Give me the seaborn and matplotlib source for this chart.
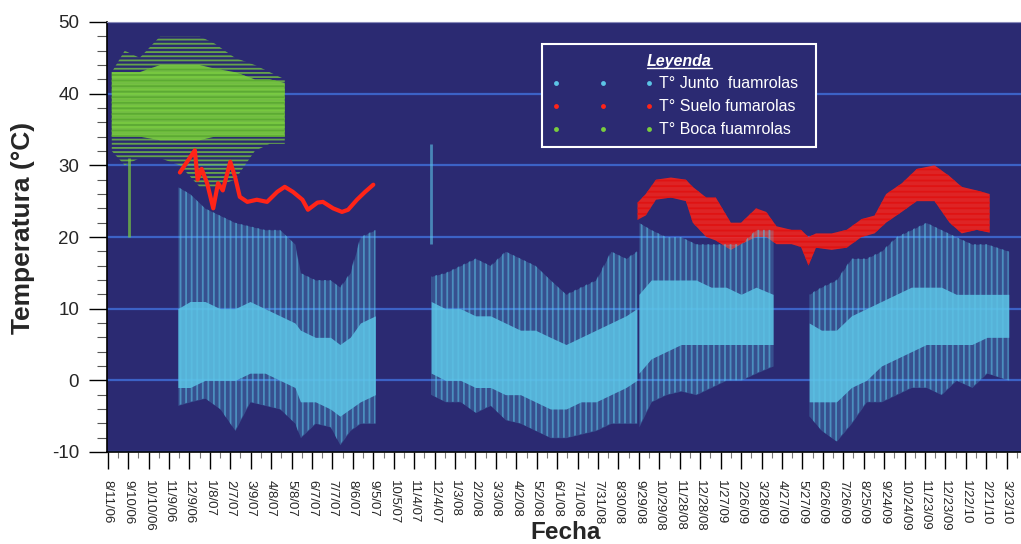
import numpy as np
import pandas as pd
import matplotlib
matplotlib.use("Agg")
import matplotlib.pyplot as plt
from matplotlib.lines import Line2D
from matplotlib.ticker import MultipleLocator
import seaborn as sns

# ---------------- data ----------------
# X tick labels (every 30 days)
tick_labels = ["8/11/06", "9/10/06", "10/10/06", "11/9/06", "12/9/06", "1/8/07", "2/7/07",
               "3/9/07", "4/8/07", "5/8/07", "6/7/07", "7/7/07", "8/6/07", "9/5/07", "10/5/07",
               "11/4/07", "12/4/07", "1/3/08", "2/2/08", "3/3/08", "4/2/08", "5/2/08", "6/1/08",
               "7/1/08", "7/31/08", "8/30/08", "9/29/08", "10/29/08", "11/28/08", "12/28/08",
               "1/27/09", "2/26/09", "3/28/09", "4/27/09", "5/27/09", "6/26/09", "7/26/09",
               "8/25/09", "9/24/09", "10/24/09", "11/23/09", "12/23/09", "1/22/10", "2/21/10",
               "3/23/10"]
y_ticks = [-10, 0, 10, 20, 30, 40, 50]

# T° Junto fumarolas (light blue cloud): period id, date, min, max, dense-core low/high
junto_period = [1]*16 + [2]*15 + [3]*10 + [4]*14
junto_date = ["2006-11-22", "2006-12-10", "2007-01-01", "2007-01-23", "2007-02-14", "2007-03-08",
              "2007-03-30", "2007-04-21", "2007-05-13", "2007-05-21", "2007-06-12", "2007-07-04",
              "2007-07-18", "2007-08-02", "2007-08-17", "2007-09-08",
              "2007-11-29", "2007-12-20", "2008-01-11", "2008-02-02", "2008-02-24", "2008-03-17",
              "2008-04-08", "2008-04-30", "2008-05-22", "2008-06-14", "2008-07-06", "2008-07-28",
              "2008-08-19", "2008-09-10", "2008-09-26",
              "2008-09-29", "2008-10-17", "2008-11-08", "2008-11-30", "2008-12-22", "2009-01-13",
              "2009-02-04", "2009-02-26", "2009-03-20", "2009-04-14",
              "2009-06-06", "2009-06-24", "2009-07-16", "2009-08-07", "2009-08-29", "2009-09-20",
              "2009-10-12", "2009-11-03", "2009-11-25", "2009-12-17", "2010-01-08", "2010-01-31",
              "2010-02-22", "2010-03-26"]
junto_min = [-3.5, -3, -2.5, -4, -7, -3, -3.5, -4, -6, -8, -6, -6.5, -9, -7, -6, -6,
             -2, -3, -3, -4.5, -3.5, -5.5, -6, -7, -8, -8, -7.5, -7, -6, -6, -6,
             -6.5, -3, -2, -1.5, -2, -1, 0, 0, 1, 2,
             -5, -7, -8.5, -6, -3, -3, -2, -1, -1, -2, 0, -1, 1, 0]
junto_max = [27, 26, 24, 23, 22, 21.5, 21, 21, 19, 15, 14, 14, 13, 15, 20, 21,
             14.5, 15, 16, 17, 16, 18, 17, 16, 14, 12, 13, 14, 18, 17, 18,
             22, 21, 20, 20, 19, 19, 19, 19, 21, 21,
             12, 13, 14, 17, 17, 18, 20, 21, 22, 21, 20, 19, 19, 18]
junto_core_lo = [-1, -1, 0, 0, 0, 1, 1, 0, -1, -3, -3, -4, -5, -4, -3, -2,
                 1, 0, 0, -1, -1, -2, -2, -3, -4, -4, -3, -3, -2, -1, 0,
                 1, 3, 4, 5, 5, 5, 5, 5, 5, 5,
                 -3, -3, -3, -1, 0, 2, 3, 4, 5, 5, 5, 5, 6, 6]
junto_core_hi = [10, 11, 11, 10, 10, 11, 10, 9, 8, 7, 6, 6, 5, 6, 8, 9,
                 11, 10, 10, 9, 9, 8, 7, 7, 6, 5, 6, 7, 8, 9, 10,
                 12, 14, 14, 14, 14, 13, 13, 12, 13, 12,
                 8, 7, 7, 9, 10, 11, 12, 13, 13, 13, 12, 12, 12, 12]
# isolated burst of readings
junto_spike_date = ["2007-11-28"]
junto_spike_min = [19]
junto_spike_max = [33]

# T° Suelo fumarolas (red): first period is a thin line, second a band
suelo1_date = ["2006-11-25", "2006-12-17", "2006-12-21", "2006-12-27", "2007-01-04", "2007-01-13",
               "2007-01-20", "2007-01-27", "2007-02-07", "2007-02-14", "2007-02-21", "2007-03-04",
               "2007-03-18", "2007-04-02", "2007-04-17", "2007-04-28", "2007-05-10", "2007-05-24",
               "2007-06-01", "2007-06-15", "2007-06-23", "2007-07-08", "2007-07-21", "2007-07-30",
               "2007-08-12", "2007-08-24", "2007-09-05"]
suelo1_val = [29, 32.1, 28, 29.5, 27.5, 24, 27.5, 26.5, 30.5, 28.4, 25.6, 24.9, 25.2, 24.9,
              26.3, 27, 26.3, 25.2, 23.8, 24.8, 24.9, 24, 23.5, 23.8, 25.2, 26.3, 27.3]
suelo2_date = ["2008-09-27", "2008-10-09", "2008-10-24", "2008-11-15", "2008-12-07", "2008-12-17",
               "2009-01-06", "2009-01-20", "2009-02-11", "2009-02-26", "2009-03-20", "2009-04-04",
               "2009-04-19", "2009-05-11", "2009-05-25", "2009-06-05", "2009-06-16", "2009-07-09",
               "2009-07-31", "2009-08-22", "2009-09-10", "2009-09-27", "2009-10-20", "2009-11-11",
               "2009-12-07", "2009-12-29", "2010-01-16", "2010-02-07", "2010-02-26"]
suelo2_min = [22.4, 23, 25.2, 25.5, 25, 22, 20, 19.5, 18.2, 19, 20, 20, 19, 19, 18.6, 16, 18.5,
              18.2, 18.5, 20, 20.5, 22, 23.5, 25, 25, 22, 20.5, 21, 20.6]
suelo2_max = [24.8, 26, 28, 28.3, 28, 27, 25.5, 25.5, 22, 22, 24, 23.5, 21.5, 21, 21, 20, 20.5,
              20.5, 21, 22.5, 23, 26, 27.5, 29.5, 30, 28.5, 27, 26.5, 26]

# T° Boca fumarolas (green)
boca_date = ["2006-08-17", "2006-09-05", "2006-09-27", "2006-10-27", "2006-11-25", "2006-12-24",
             "2007-01-15", "2007-02-14", "2007-03-15", "2007-04-06", "2007-04-28"]
boca_min = [32, 30, 31, 31, 30, 27, 27, 28, 32, 33, 33]
boca_max = [43, 46, 45, 48, 48, 48, 47, 45, 44, 43, 42]
boca_core_lo = [34, 34, 34, 33.5, 33.5, 33.5, 34, 34, 34, 34, 34]
boca_core_hi = [43, 43, 43, 44, 44, 44, 43.5, 43, 42, 42, 41.5]
boca_spike_date = ["2006-09-12"]
boca_spike_min = [20]
boca_spike_max = [31]

legend_labels = ["T° Junto  fuamrolas", "T° Suelo fumarolas", "T° Boca fuamrolas"]

# ---------------- style ----------------
sns.set_style("white")
plt.rcParams["font.family"] = ["Liberation Sans", "DejaVu Sans"]
plt.rcParams["hatch.linewidth"] = 1.3

BG = "#2b2a72"
GRID = "#3c62c6"
C_BLUE = "#5cc4e6"
C_RED = "#ff2418"
C_GREEN = "#7acd3e"

W, H = 1021, 544
fig = plt.figure(figsize=(W / 100, H / 100), dpi=100)
ax = fig.add_axes([107 / W, (H - 452) / H, (W - 107) / W, 430 / H])
ax.set_facecolor(BG)

junto = pd.DataFrame({"period": junto_period, "date": pd.to_datetime(junto_date),
                      "min": junto_min, "max": junto_max,
                      "clo": junto_core_lo, "chi": junto_core_hi})
boca = pd.DataFrame({"date": pd.to_datetime(boca_date), "min": boca_min, "max": boca_max,
                     "clo": boca_core_lo, "chi": boca_core_hi})
suelo1 = pd.DataFrame({"date": pd.to_datetime(suelo1_date), "val": suelo1_val})
suelo2 = pd.DataFrame({"date": pd.to_datetime(suelo2_date), "min": suelo2_min, "max": suelo2_max})

# green: sparse outer envelope as streaks, dense core
ax.fill_between(boca["date"], boca["min"], boca["max"], facecolor="none", edgecolor=C_GREEN,
                hatch="----", lw=0, alpha=0.75, zorder=2)
ax.fill_between(boca["date"], boca["clo"], boca["chi"], color=C_GREEN, alpha=0.9, lw=0,
                hatch="---", edgecolor="#5aa832", zorder=2)
ax.vlines(pd.to_datetime(boca_spike_date), boca_spike_min, boca_spike_max, color=C_GREEN,
          lw=2, alpha=0.7, zorder=2)

# red
sns.lineplot(data=suelo1, x="date", y="val", color=C_RED, lw=3, ax=ax, estimator=None,
             sort=False, zorder=4)
ax.fill_between(suelo2["date"], suelo2["min"], suelo2["max"], color=C_RED, alpha=0.85, lw=0,
                hatch="---", edgecolor="#e01010", zorder=3)

# light blue: sparse envelope (vertical streaks) and dense core
for p, g in junto.groupby("period"):
    ax.fill_between(g["date"], g["min"], g["max"], color=C_BLUE, alpha=0.25, lw=0, zorder=3)
    ax.fill_between(g["date"], g["min"], g["max"], facecolor="none", edgecolor=C_BLUE,
                    hatch="|||", lw=0, alpha=0.55, zorder=3)
    ax.fill_between(g["date"], g["clo"], g["chi"], color=C_BLUE, alpha=0.85, lw=0, zorder=3)
ax.vlines(pd.to_datetime(junto_spike_date), junto_spike_min, junto_spike_max, color=C_BLUE,
          lw=2, alpha=0.6, zorder=3)

# axes
ax.set_ylim(-10, 50)
ax.set_yticks(y_ticks)
ax.yaxis.set_minor_locator(MultipleLocator(2))
ax.set_yticklabels([str(v) for v in y_ticks], fontsize=13.5)
major = pd.to_datetime(tick_labels, format="%m/%d/%y")
ax.set_xlim(pd.Timestamp("2006-08-10"), pd.Timestamp("2010-04-13"))
ax.set_xticks(major)
ax.set_xticks(major + pd.Timedelta(days=15), minor=True)
ax.set_xticklabels(tick_labels, rotation=-90, fontsize=9.5)
ax.tick_params(axis="y", which="major", length=13, width=1, color="black", pad=7, direction="out", left=True)
ax.tick_params(axis="y", which="minor", length=7, width=0.8, color="#555555", direction="out", left=True)
ax.tick_params(axis="x", which="major", length=12.5, width=1, color="black", pad=8, direction="out", bottom=True)
ax.tick_params(axis="x", which="minor", length=4, width=0.8, color="#777777", direction="out", bottom=True)

ax.yaxis.grid(True, color=GRID, lw=1.6)
ax.xaxis.grid(False)
ax.set_axisbelow(True)
for s in ["left", "bottom"]:
    ax.spines[s].set_color("black")
    ax.spines[s].set_linewidth(1.2)
ax.spines["top"].set_color("#8a8ab8")
ax.spines["top"].set_linewidth(0.8)
ax.spines["right"].set_visible(False)

ax.set_ylabel("Temperatura (°C)", fontsize=19, fontweight="bold")
ax.yaxis.set_label_coords(-0.079, 0.52)
ax.set_xlabel("Fecha", fontsize=17.5, fontweight="bold")
ax.xaxis.set_label_coords(0.502, -0.160)

# legend
handles = [Line2D([], [], ls="none", marker="o", ms=3.5, color=c, markeredgewidth=0)
           for c in (C_BLUE, C_RED, C_GREEN)]
leg = ax.legend(handles, legend_labels, numpoints=3, loc="upper left",
                bbox_to_anchor=(0.476, 0.949, 0.30, 0.0), mode="expand", borderaxespad=0,
                frameon=True, fancybox=False, edgecolor="white", facecolor=BG, framealpha=1,
                handlelength=6.4, handletextpad=0.35, borderpad=0.6, labelspacing=0.5,
                fontsize=11.5, labelcolor="white", title="Leyenda",
                title_fontproperties={"weight": "bold", "style": "italic", "size": 11.5})
leg.get_title().set_color("white")
leg.get_frame().set_linewidth(1.5)
leg.set_zorder(10)

fig.canvas.draw()
bb = leg.get_title().get_window_extent()
inv = fig.transFigure.inverted()
(x0, y0), (x1, _) = inv.transform([(bb.x0, bb.y0 + 1), (bb.x1, bb.y0 + 1)])
fig.add_artist(Line2D([x0, x1], [y0, y0], color="white", lw=1, transform=fig.transFigure, zorder=11))

fig.savefig("out.png", dpi=100, facecolor="white")
